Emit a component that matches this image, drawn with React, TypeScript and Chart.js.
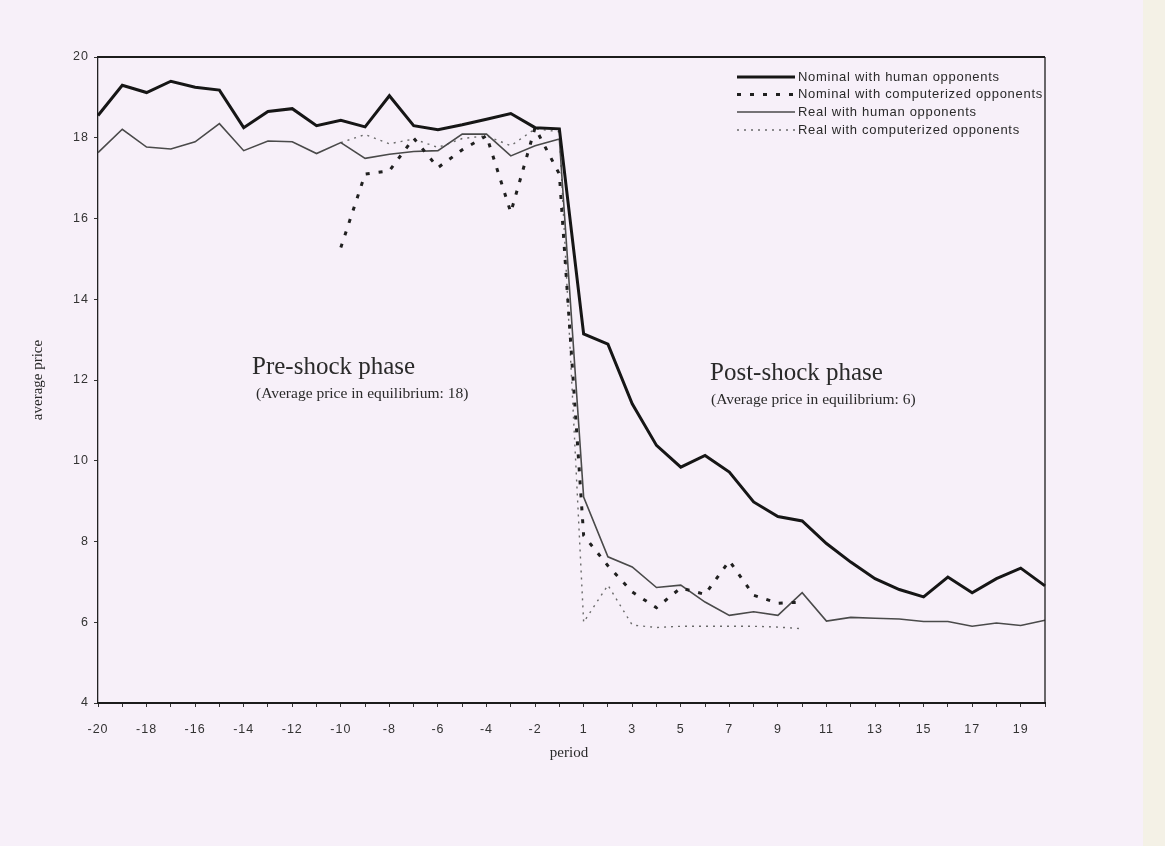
import React, { useEffect, useRef } from "react";
import { Chart, registerables } from "chart.js";

Chart.register(...registerables);

const periods = [
  "-20", "-19", "-18", "-17", "-16", "-15", "-14", "-13", "-12", "-11",
  "-10", "-9", "-8", "-7", "-6", "-5", "-4", "-3", "-2", "-1",
  "1", "2", "3", "4", "5", "6", "7", "8", "9", "10",
  "11", "12", "13", "14", "15", "16", "17", "18", "19", "20",
];

const nominalHuman = [
  18.55, 19.3, 19.12, 19.4, 19.25, 19.18, 18.25, 18.65, 18.72, 18.3,
  18.43, 18.27, 19.04, 18.3, 18.2, 18.32, 18.46, 18.6, 18.25, 18.22,
  13.14, 12.89, 11.41, 10.38, 9.84, 10.13, 9.72, 8.98, 8.62, 8.51,
  7.95, 7.49, 7.08, 6.81, 6.63, 7.12, 6.73, 7.08, 7.34, 6.9,
];

const nominalComputer = [
  null, null, null, null, null, null, null, null, null, null,
  15.28, 17.1, 17.18, 17.99, 17.26, 17.7, 18.05, 16.15, 18.25, 17.1,
  8.15, 7.4, 6.75, 6.36, 6.85, 6.69, 7.52, 6.67, 6.47, 6.5,
  null, null, null, null, null, null, null, null, null, null,
];

const realHuman = [
  17.63, 18.21, 17.77, 17.72, 17.9, 18.35, 17.68, 17.92, 17.9, 17.61,
  17.88, 17.49, 17.59, 17.66, 17.68, 18.09, 18.09, 17.55, 17.8, 17.97,
  9.1, 7.62, 7.37, 6.86, 6.92, 6.5, 6.17, 6.26, 6.17, 6.73,
  6.03, 6.12, 6.1, 6.08, 6.02, 6.02, 5.9, 5.98, 5.92, 6.05,
];

const realComputer = [
  null, null, null, null, null, null, null, null, null, null,
  17.88, 18.08, 17.85, 17.97, 17.76, 17.98, 18.05, 17.8, 18.22, 18.15,
  6.0, 6.92, 5.93, 5.87, 5.9, 5.9, 5.9, 5.9, 5.88, 5.84,
  null, null, null, null, null, null, null, null, null, null,
];

const seriesLabels = [
  "Nominal with human opponents",
  "Nominal with computerized opponents",
  "Real with human opponents",
  "Real with computerized opponents",
];

const yMin = 4;
const yMax = 20;
const yStep = 2;

const xTitle = "period";
const yTitle = "average price";
const preTitle = "Pre-shock phase";
const preSub = "(Average price in equilibrium: 18)";
const postTitle = "Post-shock phase";
const postSub = "(Average price in equilibrium: 6)";

const SANS = "'Liberation Sans', Arial, sans-serif";
const SERIF = "'Liberation Serif', 'Times New Roman', serif";

const decorPlugin = {
  id: "decor",
  beforeDraw(chart: any) {
    (chart.ctx as any).letterSpacing = "1px";
  },
  afterDraw(chart: any) {
    const ctx = chart.ctx as CanvasRenderingContext2D & { letterSpacing?: string };
    const { left, right, top, bottom } = chart.chartArea;
    ctx.save();
    // box: top and right edges
    ctx.strokeStyle = "#1c1c1c";
    ctx.lineWidth = 2;
    ctx.beginPath();
    ctx.moveTo(left, top);
    ctx.lineTo(right, top);
    ctx.stroke();
    ctx.lineWidth = 1.3;
    ctx.beginPath();
    ctx.moveTo(right, top);
    ctx.lineTo(right, bottom);
    ctx.stroke();

    // legend
    ctx.letterSpacing = "0.7px";
    ctx.font = `13px ${SANS}`;
    ctx.textBaseline = "middle";
    ctx.textAlign = "left";
    const rowsY = [77, 94.5, 112, 130];
    chart.data.datasets.forEach((ds: any, i: number) => {
      const y = rowsY[i];
      ctx.save();
      ctx.strokeStyle = ds.borderColor;
      ctx.lineWidth = ds.borderWidth;
      ctx.setLineDash(ds.borderDash || []);
      ctx.beginPath();
      ctx.moveTo(737, y);
      ctx.lineTo(795, y);
      ctx.stroke();
      ctx.restore();
      ctx.fillStyle = "#2a2a2a";
      ctx.fillText(ds.label, 798, y);
    });

    // annotations
    ctx.letterSpacing = "0px";
    ctx.fillStyle = "#2a2a2a";
    ctx.textBaseline = "alphabetic";
    ctx.font = `25px ${SERIF}`;
    ctx.fillText(preTitle, 252, 374);
    ctx.fillText(postTitle, 710, 380);
    ctx.font = `15.5px ${SERIF}`;
    ctx.fillText(preSub, 256, 398);
    ctx.fillText(postSub, 711, 404);

    // axis titles
    ctx.font = `15px ${SERIF}`;
    ctx.textAlign = "center";
    ctx.fillText(xTitle, 569, 757);
    ctx.save();
    ctx.translate(42, 380);
    ctx.rotate(-Math.PI / 2);
    ctx.fillText(yTitle, 0, 0);
    ctx.restore();
    ctx.restore();
  },
};

export default function App() {
  const ref = useRef<HTMLCanvasElement | null>(null);

  useEffect(() => {
    if (!ref.current) return;
    const chart = new Chart(ref.current, {
      type: "line",
      data: {
        labels: periods,
        datasets: [
          {
            label: seriesLabels[0],
            data: nominalHuman,
            borderColor: "#161616",
            borderWidth: 3,
            pointRadius: 0,
            tension: 0,
          },
          {
            label: seriesLabels[1],
            data: nominalComputer,
            borderColor: "#202020",
            borderWidth: 3,
            borderDash: [4, 9],
            pointRadius: 0,
            tension: 0,
          },
          {
            label: seriesLabels[2],
            data: realHuman,
            borderColor: "#4a4a4a",
            borderWidth: 1.6,
            pointRadius: 0,
            tension: 0,
          },
          {
            label: seriesLabels[3],
            data: realComputer,
            borderColor: "#6a6a6a",
            borderWidth: 1.4,
            borderDash: [2, 5],
            pointRadius: 0,
            tension: 0,
          },
        ],
      },
      options: {
        responsive: false,
        animation: false,
        devicePixelRatio: 1,
        layout: { padding: { left: 0, right: 120, top: 57, bottom: 83 } },
        plugins: {
          legend: { display: false },
          tooltip: { enabled: false },
          title: { display: false },
        },
        scales: {
          x: {
            type: "category",
            offset: false,
            grid: {
              display: true,
              drawOnChartArea: false,
              drawTicks: true,
              tickLength: 4,
              color: "#333",
              lineWidth: 1,
            },
            border: { display: true, color: "#1c1c1c", width: 2 },
            ticks: {
              autoSkip: false,
              maxRotation: 0,
              minRotation: 0,
              padding: 15,
              color: "#333",
              font: { family: SANS, size: 12.5 },
              callback: (_v: any, i: number) => (i % 2 === 0 ? periods[i] : ""),
            },
            afterFit: (scale: any) => {
              scale.height = 60;
            },
          },
          y: {
            type: "linear",
            min: yMin,
            max: yMax,
            grid: {
              display: true,
              drawOnChartArea: false,
              drawTicks: true,
              tickLength: 4,
              color: "#333",
            },
            border: { display: true, color: "#222", width: 1.3 },
            ticks: {
              stepSize: yStep,
              padding: 5,
              color: "#333",
              font: { family: SANS, size: 12.5 },
            },
            afterFit: (scale: any) => {
              scale.width = 98;
            },
          },
        },
      },
      plugins: [decorPlugin],
    });
    return () => chart.destroy();
  }, []);

  return (
    <div
      style={{
        position: "fixed",
        left: 0,
        top: 0,
        width: 1165,
        height: 846,
        background: "#f7f0f9",
        overflow: "hidden",
      }}
    >
      <canvas ref={ref} width={1165} height={846} style={{ display: "block" }} />
      <div
        style={{
          position: "absolute",
          left: 1143,
          top: 0,
          width: 22,
          height: 846,
          background: "#f4f1e6",
        }}
      />
    </div>
  );
}
